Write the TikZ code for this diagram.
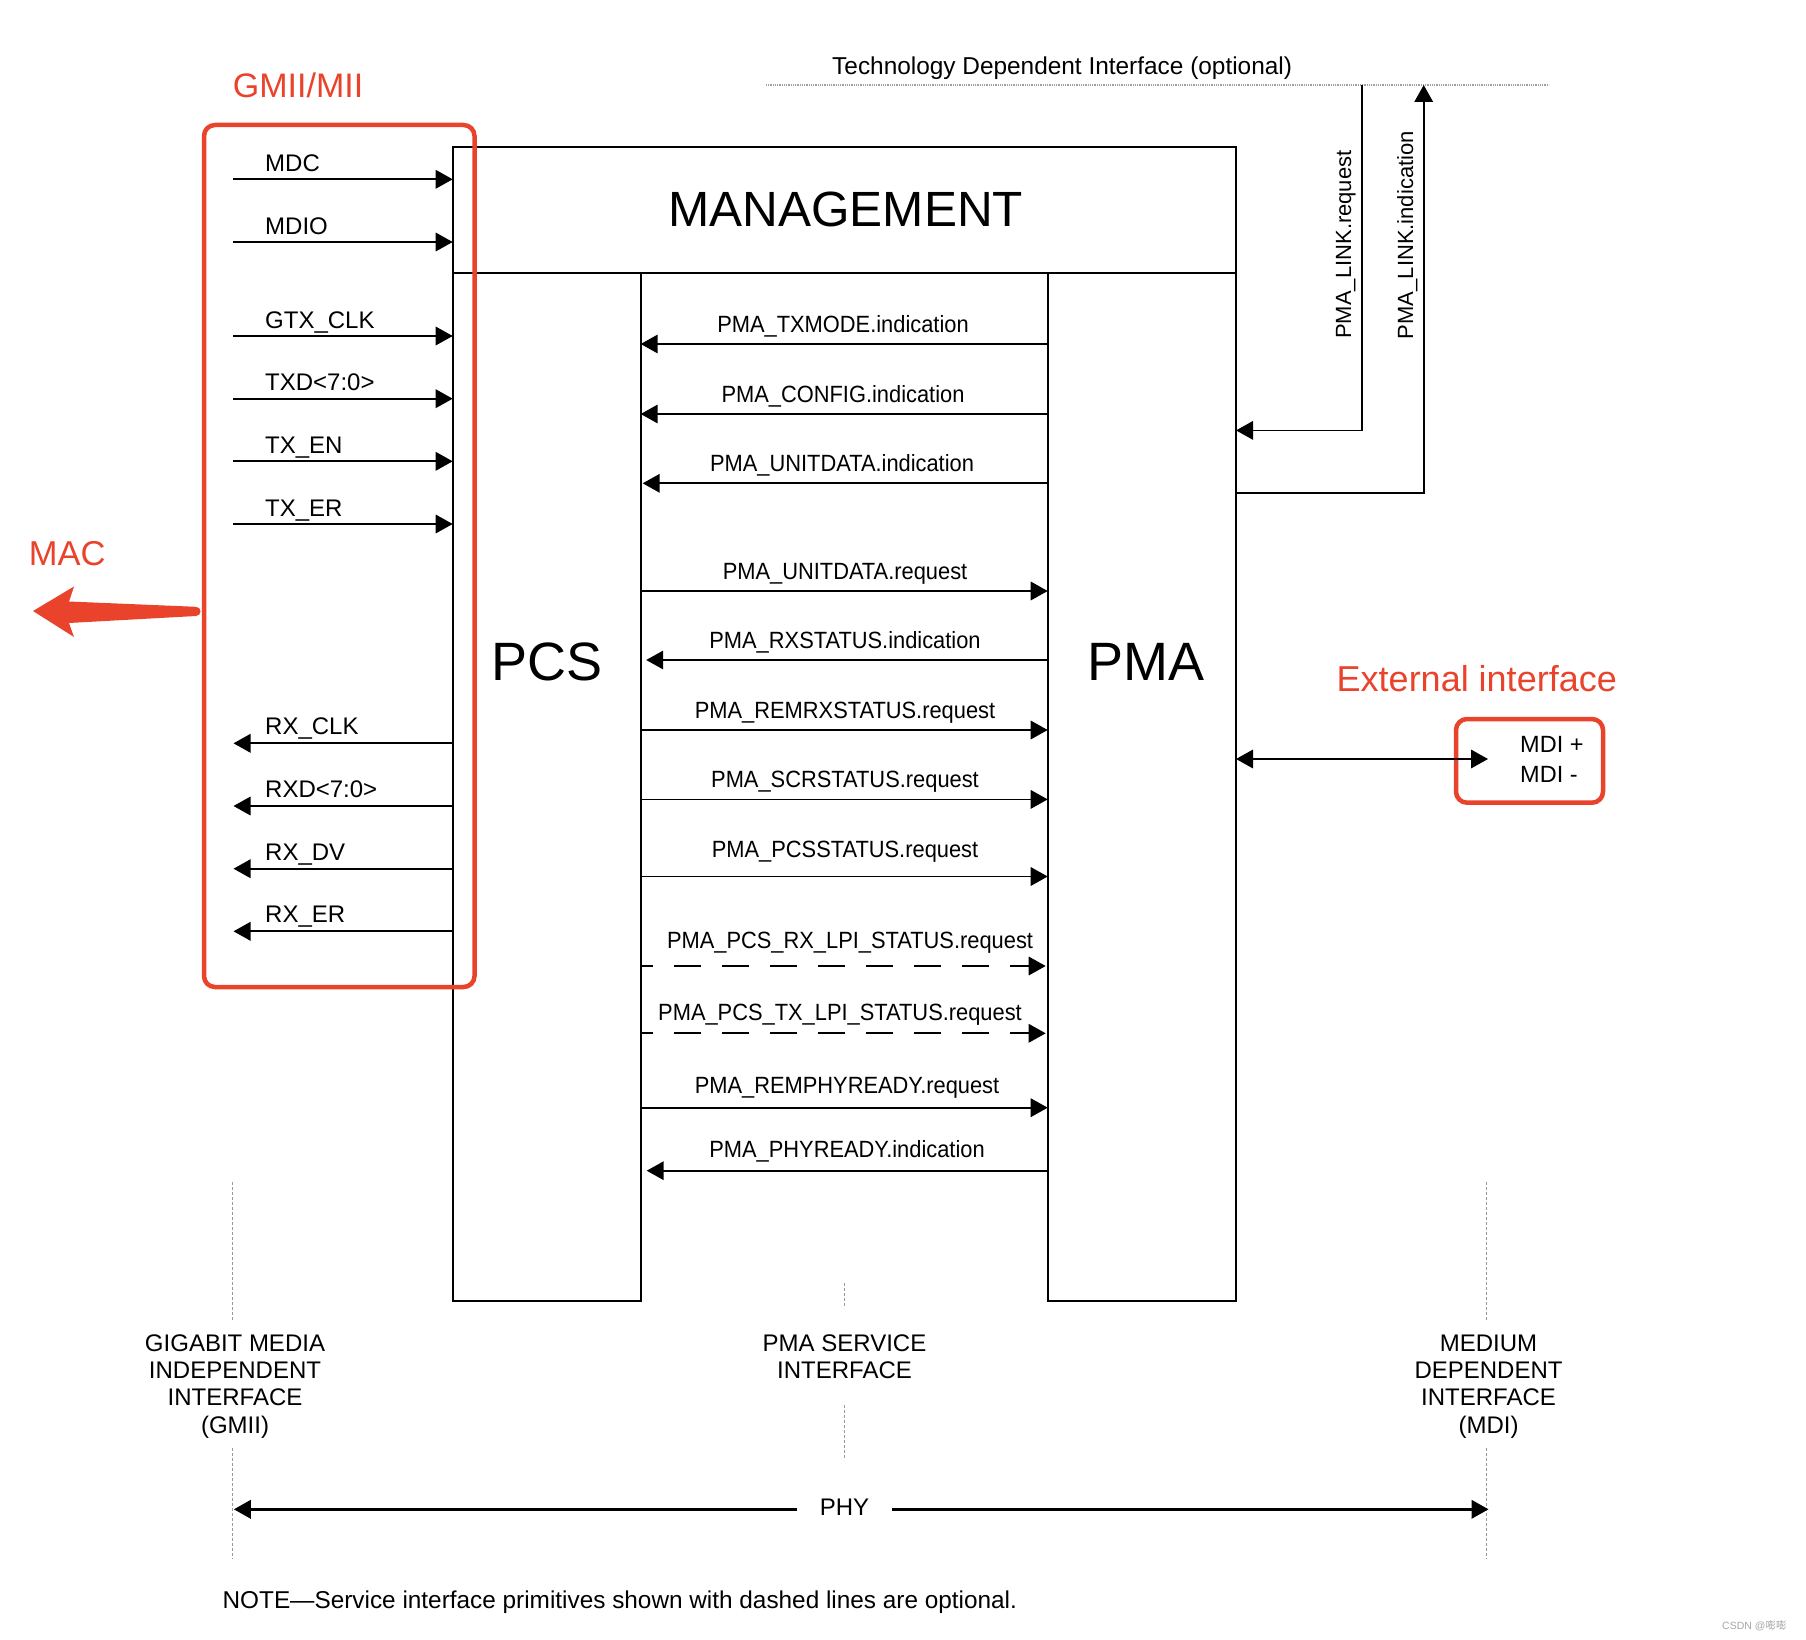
\documentclass[tikz,border=0pt]{standalone}
\usepackage{fontspec}
\setmainfont{Liberation Sans}
\newfontfamily\cjkfont{Noto Sans CJK SC}
\usetikzlibrary{arrows.meta}
\definecolor{markred}{RGB}{234,67,44}
\newcommand\setfs[1]{\fontsize{#1}{#1}\selectfont}
\begin{document}
\begin{tikzpicture}[x=1pt,y=-1pt,
  >={Triangle[length=17pt,width=18.5pt]},
  box/.style={draw, line width=2pt, inner sep=0pt, outer sep=0pt, anchor=north west},
  sig/.style={->, line width=1.8pt},
  optsig/.style={sig, dash pattern=on 26.7pt off 21.3pt, dash phase=14.4pt},
  lbl/.style={font=\setfs{24}, inner sep=0pt, anchor=base west},
  prim/.style={font=\setfs{23.5}, xscale=0.93, inner sep=0pt, anchor=base},
  title/.style={inner sep=0pt, anchor=base},
  redbox/.style={draw=markred, line width=4.5pt, rounded corners=11pt, inner sep=0pt, outer sep=0pt, anchor=north west},
  redtxt/.style={text=markred, inner sep=0pt, anchor=base west},
  guide/.style={draw=gray!80, line width=0.9pt, dash pattern=on 3pt off 2pt},
  tdline/.style={draw=gray!75, line width=1.3pt, dash pattern=on 1pt off 0.8pt}]

\fill[white] (0,0) rectangle (1806,1640);
\useasboundingbox (0,0) rectangle (1806,1640);

% layer blocks
\node[box, minimum width=783.3pt, minimum height=125.8pt] (mgmt) at (452.7,147.5) {};
\node[box, minimum width=188pt, minimum height=1027.2pt] (pcs) at (452.7,273.3) {};
\node[box, minimum width=188.3pt, minimum height=1027.2pt] (pma) at (1047.7,273.3) {};
\node[title, font=\setfs{49.5}] (mgmt-t) at (845.7,226) {MANAGEMENT};
\node[title, font=\setfs{54}] (pcs-t) at (547,680.5) {PCS};
\node[title, font=\setfs{54}] (pma-t) at (1146,680.5) {PMA};

% GMII transmit side and management signals
\foreach \n/\y/\t in {mdc/179.3/MDC, mdio/242/MDIO}{
  \coordinate (\n) at (233,\y);
  \draw[sig] (\n) -- (\n -| mgmt.west);
  \node[lbl] (\n-l) at (265,\y-8) {\t};
}
\foreach \n/\y/\t in {gtxclk/336/GTX\_CLK, txd/398.7/TXD<7:0>, txen/461.3/TX\_EN, txer/524/TX\_ER}{
  \coordinate (\n) at (233,\y);
  \draw[sig] (\n) -- (\n -| pcs.west);
  \node[lbl] (\n-l) at (265,\y-8) {\t};
}
% GMII receive side
\foreach \n/\y/\t in {rxclk/743.3/RX\_CLK, rxd/806/RXD<7:0>, rxdv/868.7/RX\_DV, rxer/931.3/RX\_ER}{
  \coordinate (\n) at (233.5,\y);
  \draw[sig] (\n -| pcs.west) -- (\n);
  \node[lbl] (\n-l) at (265,\y-8.5) {\t};
}

% PMA service interface: indications (PMA to PCS)
\foreach \n/\y/\t/\off/\cx/\sh in {
  txmode/344/PMA\_TXMODE.indication/11.7/843/0,
  config/414/PMA\_CONFIG.indication/11.5/843/0,
  unitind/483.3/PMA\_UNITDATA.indication/11.5/842/2,
  rxstat/660/PMA\_RXSTATUS.indication/11.5/845/5.5,
  phyrdy/1170.7/PMA\_PHYREADY.indication/13.7/847/6}{
  \coordinate (\n) at (\cx,\y);
  \draw[sig, shorten >=\sh pt] (\n -| pma.west) -- (\n -| pcs.east);
  \node[prim] (\n-l) at (\cx,\y-\off) {\t};
}
% requests (PCS to PMA)
\foreach \n/\y/\t/\off/\cx in {
  unitreq/591/PMA\_UNITDATA.request/11.5/845,
  remrx/730/PMA\_REMRXSTATUS.request/11.5/845,
  scr/799.4/PMA\_SCRSTATUS.request/11.5/845,
  pcsst/876.5/PMA\_PCSSTATUS.request/19/845,
  remphy/1107.7/PMA\_REMPHYREADY.request/14.7/847}{
  \coordinate (\n) at (\cx,\y);
  \draw[sig] (\n -| pcs.east) -- (\n -| pma.west);
  \node[prim] (\n-l) at (\cx,\y-\off) {\t};
}
% optional requests
\foreach \n/\y/\t/\off/\cx in {
  rxlpi/966/PMA\_PCS\_RX\_LPI\_STATUS.request/17.7/850,
  txlpi/1033.3/PMA\_PCS\_TX\_LPI\_STATUS.request/13/840}{
  \coordinate (\n) at (\cx,\y);
  \draw[optsig, shorten >=2pt] (\n -| pcs.east) -- (\n -| pma.west);
  \node[prim] (\n-l) at (\cx,\y-\off) {\t};
}

% technology dependent interface
\coordinate (tdiL) at (766,85);
\coordinate (tdiR) at (1549,85);
\draw[tdline] (tdiL) -- (tdiR);
\node[lbl, font=\setfs{24.4}] (tdi-t) at (832,75) {Technology Dependent Interface (optional)};
\coordinate (lreqTop) at (1361.6,85);
\coordinate (lreqBend) at (1361.6,430.4);
\draw[sig] (lreqTop) -- (lreqBend) -- (lreqBend -| pma.east);
\coordinate (lindTop) at (1423.7,85);
\coordinate (lindBend) at (1423.7,492.9);
\draw[sig] (lindBend -| pma.east) -- (lindBend) -- (lindTop);
\node[lbl, font=\setfs{22}, rotate=90] (lreq-t) at (1351,339) {PMA\_LINK.request};
\node[lbl, font=\setfs{22}, rotate=90] (lind-t) at (1413,339.3) {PMA\_LINK.indication};

% medium dependent interface
\node[redbox, minimum width=147pt, minimum height=83.7pt] (mdibox) at (1456,719) {};
\coordinate (mdiend) at (1488,759);
\draw[sig, <->] (pma.east |- mdiend) -- (mdiend);
\node[lbl, font=\setfs{23.5}] (mdip) at (1520,752.3) {MDI +};
\node[lbl, font=\setfs{23.5}] (mdim) at (1520,782.7) {MDI -};
\node[redtxt, font=\setfs{36}] (ext-t) at (1336.5,691) {External interface};

% GMII / MII group and MAC
\node[redbox, minimum width=270.5pt, minimum height=862pt] (gmiibox) at (204,125) {};
\node[redtxt, font=\setfs{34}] (gmii-t) at (232.7,97.1) {GMII/MII};
\node[redtxt, font=\setfs{34.5}] (mac-t) at (28.7,565.7) {MAC};
\fill[markred] (33,611) -- (74,586.5) .. controls (71,594) .. (69,601.5)
  -- (196,606.8) .. controls (202,607) and (202,615.8) .. (196,616)
  -- (69,623) .. controls (71,630) .. (74,637) -- cycle;

% interface boundaries
\coordinate (gA) at (232.7,1182); \coordinate (gB) at (232.7,1320);
\coordinate (gC) at (232.7,1448); \coordinate (gD) at (232.7,1559);
\coordinate (sA) at (844.4,1283); \coordinate (sB) at (844.4,1308);
\coordinate (sC) at (844.4,1405); \coordinate (sD) at (844.4,1460);
\coordinate (mA) at (1486,1182); \coordinate (mB) at (1486,1320);
\coordinate (mC) at (1486,1448); \coordinate (mD) at (1486,1559);
\draw[guide] (gA) -- (gB) (gC) -- (gD);
\draw[guide] (sA) -- (sB) (sC) -- (sD);
\draw[guide] (mA) -- (mB) (mC) -- (mD);

\foreach \t [count=\i] in {GIGABIT MEDIA, INDEPENDENT, INTERFACE, (GMII)}{
  \node[title, font=\setfs{24}] (gmii-\i) at (235,1351.7+27.1*\i-27.1) {\t};
}
\foreach \t [count=\i] in {PMA SERVICE, INTERFACE}{
  \node[title, font=\setfs{24}] (psi-\i) at (844.5,1351.7+27.1*\i-27.1) {\t};
}
\foreach \t [count=\i] in {MEDIUM, DEPENDENT, INTERFACE, (MDI)}{
  \node[title, font=\setfs{24}] (mdi-\i) at (1488.5,1351.7+27.1*\i-27.1) {\t};
}

% PHY span
\coordinate (phyL) at (233.9,1509.3);
\coordinate (phyR) at (1488.5,1509.3);
\node[title, font=\setfs{24}, inner xsep=23pt] (phy) at (844.5,1515) {PHY};
\draw[sig, line width=2.4pt] (phy.west |- phyL) -- (phyL);
\draw[sig, line width=2.4pt] (phy.east |- phyR) -- (phyR);

\node[lbl, font=\setfs{24.35}] (note) at (222.4,1608) {NOTE—Service interface primitives shown with dashed lines are optional.};
\node[lbl, font=\setfs{10.5}, text=gray!70] (wm) at (1722,1629) {CSDN @{\cjkfont 嘭嘭}};
\end{tikzpicture}
\end{document}
